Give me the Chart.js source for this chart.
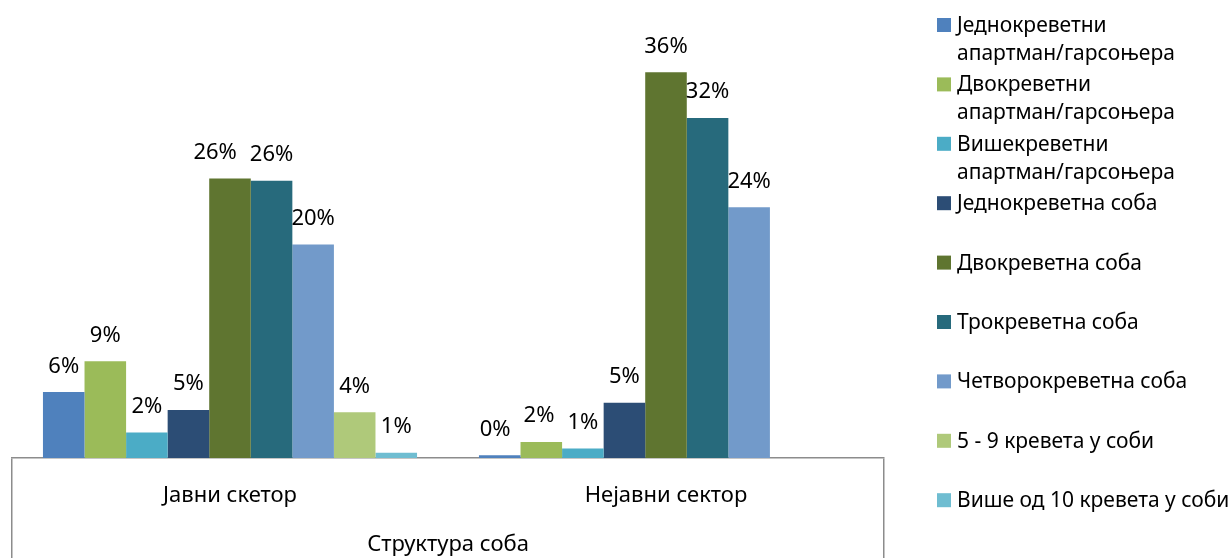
<!DOCTYPE html>
<html>
<head>
<meta charset="utf-8">
<script src="https://cdn.jsdelivr.net/npm/chart.js@4/dist/chart.umd.min.js"></script>
<style>
  body { margin: 0; background: #fff; }
  #wrap { width: 1230px; height: 558px; position: relative; }
</style>
</head>
<body>
<div id="wrap"><canvas id="roomsChart"></canvas></div>
<script>
// categories on the x axis
const sectors = ['Јавни скетор', 'Нејавни сектор'];

// series (room types)
const roomTypes = [
  ['Једнокреветни', 'апартман/гарсоњера'],
  ['Двокреветни', 'апартман/гарсоњера'],
  ['Вишекреветни', 'апартман/гарсоњера'],
  'Једнокреветна соба',
  'Двокреветна соба',
  'Трокреветна соба',
  'Четворокреветна соба',
  '5 - 9 кревета у соби',
  'Више од 10 кревета у соби',
];

const roomColors = ['#4F81BD', '#9BBB59', '#4BACC6', '#2C4D75', '#5F7530', '#276A7C', '#729ACA', '#AFC97A', '#6FBDD1'];

// share of rooms (%), one value per room type
const publicShares = [6.2, 9.1, 2.4, 4.52, 26.3, 26.1, 20.1, 4.3, 0.5];
const privateShares = [0.25, 1.51, 0.9, 5.2, 36.3, 32.0, 23.6, null, null];

const FONT = '"Noto Sans", "DejaVu Sans", sans-serif';
const axisGray = '#8c8c8c';

const datasets = roomTypes.map((name, i) => ({
  label: name,
  data: [publicShares[i], privateShares[i]],
  backgroundColor: roomColors[i],
  borderWidth: 0,
}));

// percent labels on top of the bars
const barLabels = {
  id: 'barLabels',
  afterDatasetsDraw(chart) {
    const { ctx } = chart;
    ctx.save();
    ctx.font = '22px ' + FONT;
    ctx.fillStyle = '#000';
    ctx.textAlign = 'center';
    ctx.textBaseline = 'alphabetic';
    chart.data.labels.forEach((cat, j) => {
      const items = [];
      chart.data.datasets.forEach((ds, i) => {
        const v = ds.data[j];
        if (v === null || v === undefined) return;
        const bar = chart.getDatasetMeta(i).data[j];
        const text = Math.round(v) + '%';
        items.push({ text, x: bar.x, y: bar.y - 19.5, w: ctx.measureText(text).width });
      });
      // push a label to the left when it would touch its right neighbour
      for (let k = items.length - 2; k >= 0; k--) {
        const a = items[k];
        const b = items[k + 1];
        if (Math.abs(a.y - b.y) < 18) {
          const minDist = (a.w + b.w) / 2 + 13;
          if (b.x - a.x < minDist) a.x = b.x - minDist;
        }
      }
      items.forEach((it) => ctx.fillText(it.text, it.x, it.y));
    });
    ctx.restore();
  },
};

// legend on the right, Excel style (fixed slots, wrapped labels)
const sideLegend = {
  id: 'sideLegend',
  afterDraw(chart) {
    const { ctx } = chart;
    const x0 = 937;
    const firstY = 25;
    const step = 59.4;
    const lineH = 28;
    ctx.save();
    ctx.font = '21px ' + FONT;
    ctx.textBaseline = 'middle';
    ctx.textAlign = 'left';
    chart.data.datasets.forEach((ds, i) => {
      const y = firstY + i * step;
      ctx.fillStyle = ds.backgroundColor;
      ctx.fillRect(x0, y - 7, 14, 14);
      ctx.fillStyle = '#000';
      const lines = Array.isArray(ds.label) ? ds.label : [ds.label];
      lines.forEach((ln, k) => {
        ctx.fillText(ln, x0 + 20, y + 1 + k * lineH);
      });
    });
    ctx.restore();
  },
};

new Chart(document.getElementById('roomsChart'), {
  type: 'bar',
  data: { labels: sectors, datasets },
  plugins: [barLabels, sideLegend],
  options: {
    responsive: true,
    maintainAspectRatio: false,
    animation: false,
    layout: { padding: { left: 12, right: 346, top: 0, bottom: 0 } },
    datasets: {
      bar: { categoryPercentage: 0.858, barPercentage: 1 },
    },
    plugins: {
      legend: { display: false },
      tooltip: { enabled: false },
    },
    scales: {
      y: { display: false, min: 0, max: 43.1 },
      x: {
        border: { display: true, color: axisGray, width: 1.5 },
        grid: {
          offset: true,
          drawOnChartArea: false,
          drawTicks: true,
          tickLength: 100,
          lineWidth: 1.5,
          color: (c) => (c.index === 1 ? 'rgba(0,0,0,0)' : axisGray),
        },
        ticks: {
          color: '#000',
          font: { family: FONT, size: 22 },
          padding: -75.5,
          maxRotation: 0,
        },
        title: {
          display: true,
          text: 'Структура соба',
          color: '#000',
          font: { family: FONT, size: 22 },
          padding: { top: 0, bottom: 0 },
        },
        afterFit: (scale) => { scale.height = 100; },
      },
    },
  },
});
</script>
</body>
</html>
